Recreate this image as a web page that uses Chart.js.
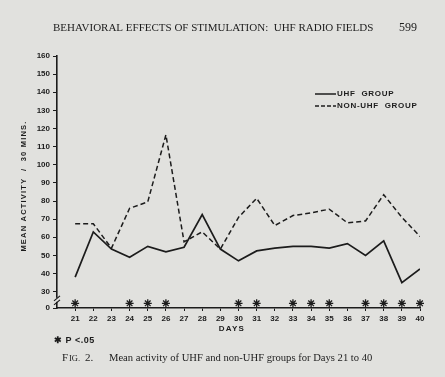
<!DOCTYPE html>
<html>
<head>
<meta charset="utf-8">
<script src="https://cdn.jsdelivr.net/npm/chart.js@4"></script>
<style>
  html, body { margin: 0; padding: 0; background: #e1e1de; }
  #activityChart { display: block; }
</style>
</head>
<body>
<canvas id="activityChart" width="445" height="377"></canvas>
<script>
// values (mean activity / 30 mins)
const days = [21, 22, 23, 24, 25, 26, 27, 28, 29, 30, 31, 32, 33, 34, 35, 36, 37, 38, 39, 40];
const uhfGroup = [38, 63, 53.5, 49, 55, 52, 54.5, 72.5, 53.5, 47, 52.5, 54, 55, 55, 54, 56.5, 50, 58, 35, 42.5];
const nonUhfGroup = [67.5, 67.5, 54, 76, 79.5, 116.5, 57.5, 63, 53.5, 71, 81.5, 66.5, 72, 73.5, 75.5, 68, 69, 83.5, 71, 60.5];
const significantDays = [21, 24, 25, 26, 30, 31, 33, 34, 35, 37, 38, 39, 40];
const yTickValues = [0, 30, 40, 50, 60, 70, 80, 90, 100, 110, 120, 130, 140, 150, 160];

// the y axis is broken between 0 and 30: 0 is drawn where 21 would be
const BREAK_BASE = 21;
const STAR_LEVEL = 23.6;
const ink = '#1c1c1c';
const paper = '#e1e1de';
const tickFont = { family: '"Liberation Sans", Arial, sans-serif', size: 8, weight: 'bold' };

function toScale(v) {
    return v === 0 ? BREAK_BASE : v;
}

const extras = {
    id: 'extras',
    afterDraw(chart) {
        const ctx = chart.ctx;
        const xs = chart.scales.x;
        const ys = chart.scales.y;
        ctx.save();
        ctx.fillStyle = ink;
        ctx.strokeStyle = ink;
        ctx.textBaseline = 'middle';

        // running head
        ctx.font = '11px "Liberation Serif", serif';
        ctx.fillText('BEHAVIORAL EFFECTS OF STIMULATION:  UHF RADIO FIELDS', 53, 28, 333);
        ctx.font = '12px "Liberation Serif", serif';
        ctx.fillText('599', 399, 28);

        // y axis title
        ctx.save();
        ctx.translate(24, 186);
        ctx.rotate(-Math.PI / 2);
        ctx.textAlign = 'center';
        ctx.font = 'bold 7.5px "Liberation Sans", Arial, sans-serif';
        ctx.letterSpacing = '1.2px';
        ctx.fillText('MEAN ACTIVITY  /  30 MINS.', 0, 0);
        ctx.restore();

        // x axis title
        ctx.textAlign = 'center';
        ctx.font = 'bold 8px "Liberation Sans", Arial, sans-serif';
        ctx.letterSpacing = '1.2px';
        ctx.fillText('DAYS', 232, 329);

        // axis break marks
        const by = ys.getPixelForValue(25.5);
        ctx.lineWidth = 1.2;
        ctx.fillStyle = paper;
        ctx.fillRect(xs.left - 2, by - 2, 4, 4);
        ctx.fillStyle = ink;
        ctx.beginPath();
        ctx.moveTo(xs.left - 3, by + 1); ctx.lineTo(xs.left + 3, by - 4);
        ctx.moveTo(xs.left - 3, by + 5); ctx.lineTo(xs.left + 3, by);
        ctx.stroke();

        // legend
        ctx.textAlign = 'left';
        ctx.lineWidth = 1.5;
        ctx.beginPath();
        ctx.moveTo(315, 94); ctx.lineTo(336, 94);
        ctx.stroke();
        ctx.setLineDash([4, 2]);
        ctx.beginPath();
        ctx.moveTo(315, 106); ctx.lineTo(336, 106);
        ctx.stroke();
        ctx.setLineDash([]);
        ctx.font = 'bold 8px "Liberation Sans", Arial, sans-serif';
        ctx.letterSpacing = '0.7px';
        ctx.fillText('UHF  GROUP', 337, 94);
        ctx.fillText('NON-UHF  GROUP', 337, 106);

        // significance key
        ctx.font = 'bold 9px "Liberation Sans", Arial, sans-serif';
        ctx.letterSpacing = '0.5px';
        ctx.fillText('\u2731 P <.05', 54, 341);

        // caption
        ctx.letterSpacing = '0px';
        ctx.font = '11px "Liberation Serif", serif';
        ctx.fillText('F', 62, 358);
        ctx.font = '8.5px "Liberation Serif", serif';
        ctx.fillText('IG.', 69, 359);
        ctx.font = '11px "Liberation Serif", serif';
        ctx.fillText('2.', 85, 358);
        ctx.font = '10.6px "Liberation Serif", serif';
        ctx.fillText('Mean activity of UHF and non-UHF groups for Days 21 to 40', 109, 358, 272);
        ctx.restore();
    }
};

const ctx = document.getElementById('activityChart').getContext('2d');
const activityChart = new Chart(ctx, {
    type: 'line',
    data: {
        datasets: [
            {
                label: 'UHF GROUP',
                data: days.map((d, i) => ({ x: d, y: uhfGroup[i] })),
                borderColor: ink,
                borderWidth: 1.7,
                pointRadius: 0,
                tension: 0
            },
            {
                label: 'NON-UHF GROUP',
                data: days.map((d, i) => ({ x: d, y: nonUhfGroup[i] })),
                borderColor: ink,
                borderWidth: 1.5,
                borderDash: [5, 3],
                pointRadius: 0,
                tension: 0
            },
            {
                label: 'P < .05',
                data: significantDays.map(d => ({ x: d, y: STAR_LEVEL })),
                showLine: false,
                clip: false,
                pointStyle: 'star',
                pointRadius: 4,
                borderColor: ink,
                borderWidth: 1.3
            }
        ]
    },
    options: {
        responsive: false,
        devicePixelRatio: 1,
        animation: false,
        layout: { padding: { top: 56, right: 25, bottom: 0, left: 0 } },
        plugins: {
            legend: { display: false },
            tooltip: { enabled: false }
        },
        scales: {
            x: {
                type: 'linear',
                min: 20,
                max: 40,
                afterFit(scale) { scale.height = 69; },
                afterBuildTicks(scale) {
                    scale.ticks = days.map(d => ({ value: d }));
                },
                ticks: { color: ink, font: tickFont, padding: 3, maxRotation: 0, autoSkip: false },
                grid: { drawOnChartArea: false, tickLength: 3, color: ink, lineWidth: 1 },
                border: { color: ink, width: 1.6 }
            },
            y: {
                type: 'linear',
                min: BREAK_BASE,
                max: 160,
                afterFit(scale) { scale.width = 57; },
                afterBuildTicks(scale) {
                    scale.ticks = yTickValues.map(v => ({ value: toScale(v) }));
                },
                ticks: {
                    color: ink,
                    font: tickFont,
                    padding: 3,
                    autoSkip: false,
                    callback: v => (v === BREAK_BASE ? '0' : v)
                },
                grid: { drawOnChartArea: false, tickLength: 4, color: ink, lineWidth: 1 },
                border: { color: ink, width: 1.6 }
            }
        }
    },
    plugins: [extras]
});
</script>
</body>
</html>
